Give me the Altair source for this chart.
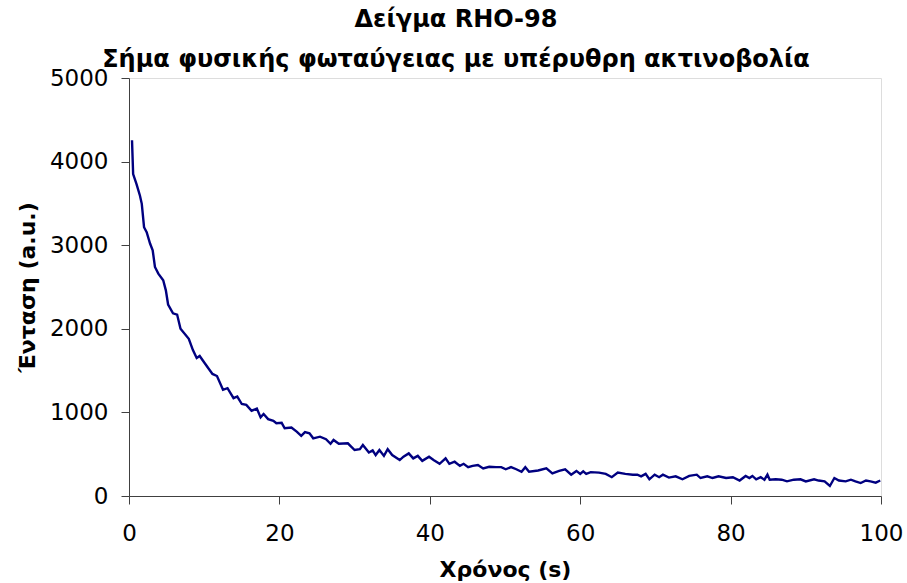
import altair as alt
import pandas as pd

title_lines = ["Δείγμα RHO-98", "Σήμα φυσικής φωταύγειας με υπέρυθρη ακτινοβολία"]
x_title = "Χρόνος (s)"
y_title = "Ένταση (a.u.)"
x_ticks = [0, 20, 40, 60, 80, 100]
y_ticks = [0, 1000, 2000, 3000, 4000, 5000]

times = [0.4, 0.55, 1.0, 1.45, 1.7, 2.0, 2.35, 2.8, 3.15, 3.45, 3.9, 4.55, 4.9, 5.2,
         5.85, 6.4, 6.85, 7.95, 8.5, 9.0, 9.4, 10.1, 11.1, 11.7, 12.5, 13.1, 13.9,
         14.4, 15.0, 15.6, 16.3, 17.0, 17.5, 17.9, 18.5, 19.2, 19.6, 20.3, 20.7,
         21.6, 22.3, 22.9, 23.4, 24.0, 24.5, 25.4, 26.2, 26.8, 27.2, 27.9, 29.1,
         30.0, 30.7, 31.1, 31.9, 32.4, 32.8, 33.3, 33.9, 34.4, 35.0, 36.0, 36.5,
         37.2, 37.8, 38.4, 39.0, 39.9, 40.5, 41.3, 42.1, 42.6, 43.3, 44.0, 44.5,
         45.1, 45.7, 46.4, 47.1, 47.9, 48.8, 49.5, 50.1, 50.8, 51.5, 52.2, 52.7,
         53.2, 54.4, 55.5, 56.3, 57.2, 58.0, 58.8, 59.5, 60.0, 60.4, 60.8, 61.4,
         62.5, 63.4, 64.2, 65.0, 66.0, 67.0, 67.6, 68.1, 68.7, 69.2, 69.9, 70.5,
         71.0, 71.8, 72.7, 73.6, 74.5, 75.5, 76.0, 76.9, 77.6, 78.4, 79.4, 80.3,
         81.2, 82.0, 82.5, 82.9, 83.4, 84.0, 84.5, 84.9, 85.2, 86.0, 86.8, 87.5,
         88.4, 89.3, 90.0, 91.1, 91.7, 92.5, 93.2, 93.8, 94.4, 95.3, 96.0, 96.6,
         97.3, 98.0, 98.6, 99.3, 99.9]

intensity = [4255, 3850, 3730, 3595, 3495, 3215, 3155, 3020, 2940, 2740, 2660, 2580,
             2460, 2290, 2185, 2170, 2000, 1880, 1745, 1650, 1675, 1585, 1460, 1435,
             1270, 1290, 1170, 1190, 1100, 1090, 1020, 1045, 940, 980, 920, 900, 870,
             875, 810, 820, 770, 720, 765, 750, 690, 710, 680, 625, 670, 625, 630,
             550, 560, 610, 520, 545, 490, 550, 480, 560, 490, 430, 470, 510, 450,
             480, 420, 470, 430, 385, 450, 385, 410, 360, 385, 345, 360, 370, 330,
             350, 345, 345, 320, 345, 320, 290, 345, 290, 305, 330, 270, 300, 320,
             255, 300, 265, 295, 265, 285, 280, 265, 225, 280, 265, 255, 255, 235,
             265, 200, 255, 225, 255, 220, 235, 200, 240, 255, 215, 235, 215, 235,
             215, 225, 185, 240, 215, 240, 200, 225, 195, 255, 195, 200, 195, 175,
             195, 200, 175, 200, 185, 175, 120, 215, 185, 175, 195, 175, 155, 185,
             175, 160, 185]

df = pd.DataFrame({"t": times, "v": intensity})

FONT = "DejaVu Sans"
AXIS_COLOR = "#404040"

chart = alt.Chart(df).mark_line(color="#000080", strokeWidth=2.4).encode(
    x=alt.X("t:Q",
            scale=alt.Scale(domain=[0, 100], nice=False),
            axis=alt.Axis(title=x_title, values=x_ticks, grid=False, format="d",
                          tickSize=8, labelPadding=18, labelFontSize=23,
                          labelFont=FONT, labelColor="#000000",
                          titleFont=FONT, titleFontSize=22, titleFontWeight="bold",
                          titleColor="#000000", titlePadding=14,
                          domainColor=AXIS_COLOR, tickColor=AXIS_COLOR,
                          labelFlush=False)),
    y=alt.Y("v:Q",
            scale=alt.Scale(domain=[0, 5000], nice=False),
            axis=alt.Axis(title=y_title, values=y_ticks, grid=False, format="d",
                          tickSize=8, labelPadding=13, labelFontSize=23,
                          labelFont=FONT, labelColor="#000000",
                          titleFont=FONT, titleFontSize=22, titleFontWeight="bold",
                          titleColor="#000000", titlePadding=10,
                          domainColor=AXIS_COLOR, tickColor=AXIS_COLOR,
                          labelFlush=False)),
).properties(
    width=752,
    height=418,
    title=alt.TitleParams(text=title_lines, font=FONT, fontSize=24,
                          fontWeight="bold", color="#000000", anchor="middle",
                          frame="group", dx=-49, dy=13, offset=8, lineHeight=40),
    padding={"left": 129, "top": 78, "right": 26, "bottom": 87},
    autosize=alt.AutoSizeParams(type="none"),
).configure_view(stroke=None).configure(background="white")

chart.save("out.html", embed_options={"renderer": "svg", "actions": False})
